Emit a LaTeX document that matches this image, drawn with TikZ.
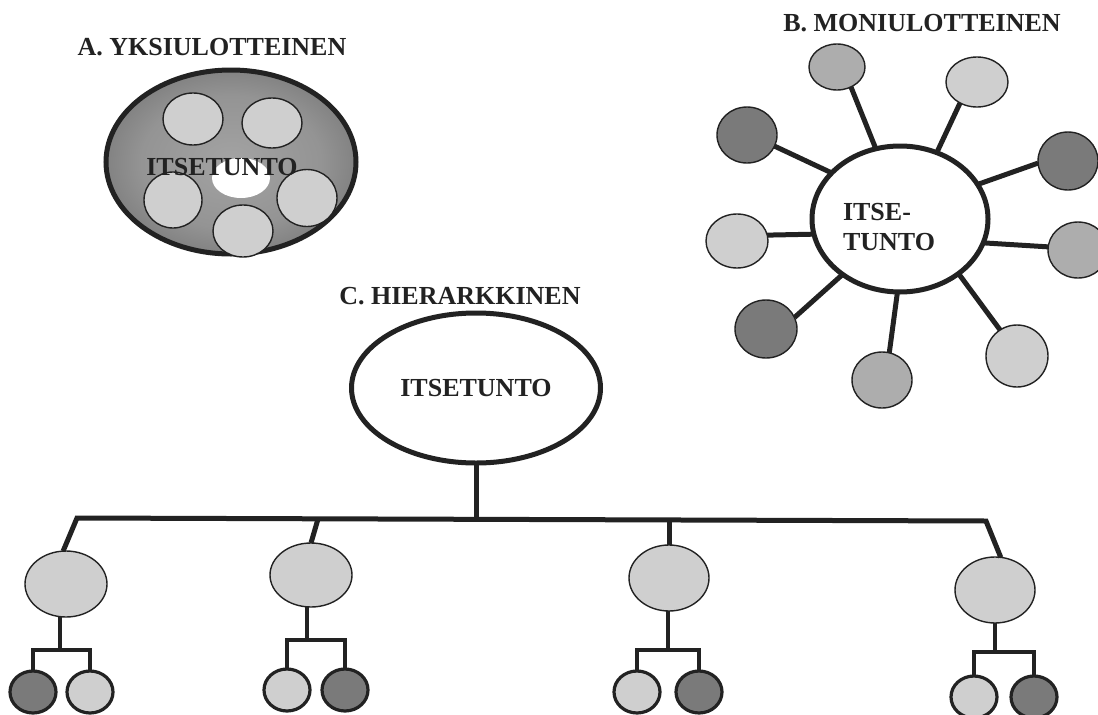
\documentclass[tikz,border=0pt]{standalone}
\usepackage{fontspec}
\setmainfont{Liberation Serif}
\usetikzlibrary{shapes.geometric}

\definecolor{lightdot}{HTML}{CFCFCF}
\definecolor{middot}{HTML}{ADADAD}
\definecolor{darkdot}{HTML}{7A7A7A}
\definecolor{ink}{HTML}{222222}

% dark rim fading to a lighter middle
\pgfdeclareradialshading{rimshade}{\pgfpoint{0bp}{0bp}}{%
  color(0bp)=(black!36); color(18bp)=(black!42); color(38bp)=(black!62); color(50bp)=(black!80)}

\begin{document}
\begin{tikzpicture}[x=1pt,y=-1pt,
  every node/.style={inner sep=0pt, outer sep=0pt},
  heading/.style={font=\bfseries\fontsize{26}{30}\selectfont, text=ink},
  word/.style={font=\bfseries\fontsize{26}{30}\selectfont, text=ink},
  blob/.style={ellipse, draw=ink, line width=1.4pt},
  hub/.style={ellipse, draw=ink, line width=5pt, fill=white},
  spoke/.style={draw=ink, line width=5pt},
  tie/.style={draw=ink, line width=4pt},
  leaf/.style={ellipse, draw=ink, line width=3.2pt, minimum width=46, minimum height=42},
]
\useasboundingbox[fill=white] (0,0) rectangle (1098,715);

% ---------- A: one-dimensional ----------
\node[heading] (ta) at (212,47) {A. YKSIULOTTEINEN};
\node[ellipse, draw=ink, line width=5pt, shading=rimshade,
      minimum width=250, minimum height=184] (aouter) at (231,162) {};
\node[blob, fill=lightdot, minimum width=60, minimum height=52] (a1) at (193,119) {};
\node[blob, fill=lightdot, minimum width=60, minimum height=50] (a2) at (272,123) {};
\node[blob, fill=lightdot, minimum width=58, minimum height=56] (a3) at (173,200) {};
\node[blob, fill=lightdot, minimum width=60, minimum height=57] (a4) at (307,198) {};
\node[blob, fill=lightdot, minimum width=60, minimum height=52] (a5) at (243,231) {};
\node[ellipse, fill=white, minimum width=58, minimum height=40] (acore) at (241,178) {};
\node[word] (alabel) at (222,167) {ITSETUNTO};

% ---------- B: multi-dimensional ----------
\node[heading] (tb) at (922,23) {B. MONIULOTTEINEN};
\node[hub, minimum width=176, minimum height=146] (bhub) at (900,219) {};
\node[word, align=left] (blabel) at (889,227) {ITSE-\\TUNTO};

\node[blob, fill=middot,   minimum width=56, minimum height=46] (s1) at (837,67) {};
\node[blob, fill=lightdot, minimum width=62, minimum height=50] (s2) at (977,82) {};
\node[blob, fill=darkdot,  minimum width=60, minimum height=56] (s3) at (747,135) {};
\node[blob, fill=darkdot,  minimum width=60, minimum height=58] (s4) at (1068,161) {};
\node[blob, fill=lightdot, minimum width=62, minimum height=54] (s5) at (737,241) {};
\node[blob, fill=middot,   minimum width=60, minimum height=56] (s6) at (1078,250) {};
\node[blob, fill=darkdot,  minimum width=62, minimum height=58] (s7) at (766,329) {};
\node[blob, fill=middot,   minimum width=60, minimum height=56] (s8) at (882,380) {};
\node[blob, fill=lightdot, minimum width=62, minimum height=62] (s9) at (1017,356) {};
% spokes: hub border angle / satellite border angle
\foreach \s/\h/\t in {s1/109/305, s2/61/231, s3/146/338, s4/24/184, s5/190/11,
                      s6/344/174, s7/224/22, s8/268/75, s9/317/123}
  \draw[spoke] (bhub.\h) -- (\s.\t);

% ---------- C: hierarchical ----------
\node[heading] (tc) at (460,296) {C. HIERARKKINEN};
\node[hub, minimum width=249, minimum height=150, font=\bfseries\fontsize{26}{30}\selectfont, text=ink] (root) at (476,388) {ITSETUNTO};

\node[blob, fill=lightdot, minimum width=82, minimum height=66] (p1) at (66,584) {};
\node[blob, fill=lightdot, minimum width=82, minimum height=64] (p2) at (311,575) {};
\node[blob, fill=lightdot, minimum width=80, minimum height=66] (p3) at (669,578) {};
\node[blob, fill=lightdot, minimum width=80, minimum height=66] (p4) at (995,590) {};

\coordinate (barL) at (77,518);
\coordinate (barR) at (986,521);
\coordinate (j0) at (476,519.3);
\coordinate (j2) at (318,519);
\coordinate (j3) at (669,520);

\draw[spoke, line join=miter] (p1.95) -- (barL) -- (barR) -- (p4.80);
\draw[spoke] (root.south) -- (j0);
\draw[spoke] (j2) -- (p2.north);
\draw[spoke] (j3) -- (p3.north);

% second level
\node[leaf, fill=darkdot]  (c1a) at (33,692) {};
\node[leaf, fill=lightdot] (c1b) at (90,692) {};
\node[leaf, fill=lightdot] (c2a) at (287,690) {};
\node[leaf, fill=darkdot]  (c2b) at (345,690) {};
\node[leaf, fill=lightdot] (c3a) at (637,692) {};
\node[leaf, fill=darkdot]  (c3b) at (699,692) {};
\node[leaf, fill=lightdot] (c4a) at (974,697) {};
\node[leaf, fill=darkdot]  (c4b) at (1034,697) {};

\coordinate (k1) at (60,650);
\coordinate (k2) at (307,640);
\coordinate (k3) at (668,650);
\coordinate (k4) at (995,652);

\draw[tie] (p1.south -| k1) -- (k1);
\draw[tie] (p2.south -| k2) -- (k2);
\draw[tie] (p3.south -| k3) -- (k3);
\draw[tie] (p4.south -| k4) -- (k4);

\draw[tie, line join=miter] (c1a.north) -- (c1a.north |- k1) -- (c1b.north |- k1) -- (c1b.north);
\draw[tie, line join=miter] (c2a.north) -- (c2a.north |- k2) -- (c2b.north |- k2) -- (c2b.north);
\draw[tie, line join=miter] (c3a.north) -- (c3a.north |- k3) -- (c3b.north |- k3) -- (c3b.north);
\draw[tie, line join=miter] (c4a.north) -- (c4a.north |- k4) -- (c4b.north |- k4) -- (c4b.north);
\end{tikzpicture}
\end{document}
